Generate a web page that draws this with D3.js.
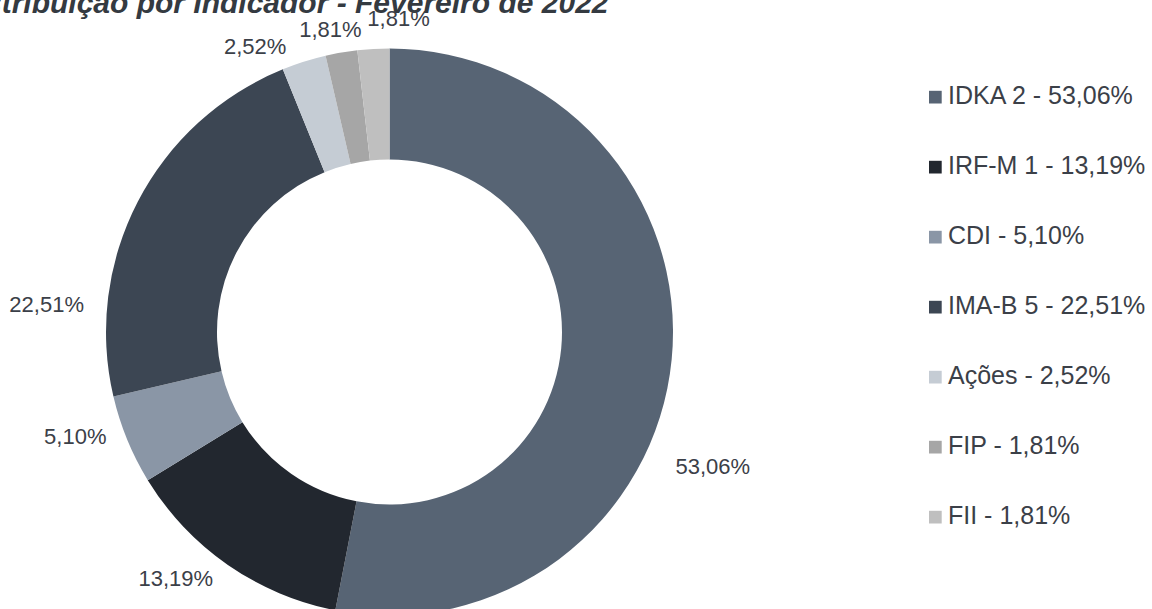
<!DOCTYPE html>
<html>
<head>
<meta charset="utf-8">
<script src="https://cdn.jsdelivr.net/npm/d3@7"></script>
<style>
  html, body { margin: 0; padding: 0; background: #fff; overflow: hidden; }
  text { font-family: "Liberation Sans", Arial, sans-serif; }
</style>
</head>
<body>
<script>
const categories = ["IDKA 2", "IRF-M 1", "CDI", "IMA-B 5", "Ações", "FIP", "FII"];
const shares = [53.06, 13.19, 5.10, 22.51, 2.52, 1.81, 1.81];
const colors = ["#576474", "#22272f", "#8a96a6", "#3c4653", "#c5ccd4", "#a6a6a6", "#bfbfbf"];
// label placement: angle nudge (deg) from slice middle, and distance from centre
const labelNudge = [17, 6.2, 4, -22.7, -7.6, -1.3, 4.9];
const labelRadius = [350, 326, 331, 344, 316, 308, 314];

const width = 1152, height = 609;
const cx = 389.5, cy = 332,
    outerR = 283.5, innerR = 172.5;

const fmt = v => v.toFixed(2).replace(".", ",") + "%";

const svg = d3.select("body").append("svg")
    .attr("width", width)
    .attr("height", height);

svg.append("text")
    .attr("x", -45)
    .attr("y", 12.5)
    .attr("font-size", 30)
    .attr("font-weight", "bold")
    .attr("font-style", "italic")
    .attr("fill", "#343a41")
    .text("Distribuição por Indicador - Fevereiro de 2022");

const data = categories.map((c, i) => ({ name: c, value: shares[i], color: colors[i], i: i }));

const pie = d3.pie()
    .sort(null)
    .value(d => d.value);

const arc = d3.arc()
    .innerRadius(innerR)
    .outerRadius(outerR);

const arcs = pie(data);

const g = svg.append("g")
    .attr("transform", "translate(" + cx + "," + cy + ")");

g.selectAll("path")
    .data(arcs)
    .enter().append("path")
    .attr("d", arc)
    .attr("fill", d => d.data.color);

g.selectAll("text.slice-label")
    .data(arcs)
    .enter().append("text")
    .attr("class", "slice-label")
    .attr("transform", d => {
        const a = (d.startAngle + d.endAngle) / 2 + labelNudge[d.index] * Math.PI / 180;
        const r = labelRadius[d.index];
        return "translate(" + (r * Math.sin(a)) + "," + (-r * Math.cos(a)) + ")";
    })
    .attr("text-anchor", "middle")
    .attr("dy", "0.35em")
    .attr("font-size", 22)
    .attr("fill", "#3b4048")
    .text(d => fmt(d.data.value));

// legend
const legendY = d3.scalePoint()
    .domain(categories)
    .range([104.3, 524.3]);

const legend = svg.append("g");

const item = legend.selectAll("g")
    .data(data)
    .enter().append("g")
    .attr("transform", d => "translate(929," + legendY(d.name) + ")");

item.append("rect")
    .attr("x", 0)
    .attr("y", -13.5)
    .attr("width", 12.7)
    .attr("height", 12.7)
    .attr("fill", d => d.color);

item.append("text")
    .attr("x", 19)
    .attr("y", 0)
    .attr("font-size", 25)
    .attr("fill", "#3b4048")
    .text(d => d.name + " - " + fmt(d.value));
</script>
</body>
</html>
